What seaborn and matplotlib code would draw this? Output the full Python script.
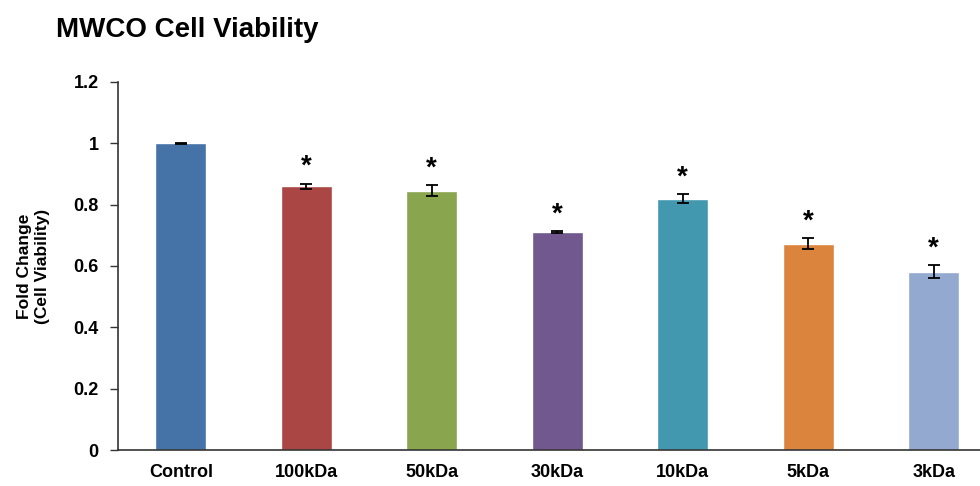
import matplotlib
matplotlib.use("Agg")
import matplotlib.pyplot as plt
import pandas as pd
import seaborn as sns

categories = ["Control", "100kDa", "50kDa", "30kDa", "10kDa", "5kDa", "3kDa"]
viability = [1.0, 0.86, 0.845, 0.711, 0.82, 0.673, 0.581]
errors = [0.002, 0.008, 0.018, 0.003, 0.014, 0.018, 0.021]
significant = [False, True, True, True, True, True, True]
colors = ["#4572A7", "#AA4643", "#89A54E", "#71588F", "#4198AF", "#DB843D", "#93A9CF"]

df = pd.DataFrame({"group": categories, "fold": viability})

sns.set_theme(style="white")
plt.rcParams["font.family"] = ["Liberation Sans", "DejaVu Sans"]

fig = plt.figure(figsize=(9.8, 4.86), dpi=100)
ax = fig.add_axes([118 / 980, 36 / 486, 862 / 980, 368 / 486])

sns.barplot(data=df, x="group", y="fold", hue="group", palette=colors,
            legend=False, width=0.41, saturation=1, ax=ax)
ax.errorbar(range(len(categories)), viability, yerr=errors, fmt="none",
            ecolor="black", elinewidth=1.3, capsize=4, capthick=1.3)

# significance stars above the error bars
for i, (v, e, s) in enumerate(zip(viability, errors, significant)):
    if s:
        ax.text(i, v + e + 0.032, "*", ha="center", va="baseline",
                fontsize=20, fontweight="bold", color="black")

ax.set_xlim(-0.5, -0.5 + 862 / 125.5)
ax.set_ylim(0, 1.2)
ax.set_yticks([0, 0.2, 0.4, 0.6, 0.8, 1.0, 1.2])
ax.set_yticklabels(["0", "0.2", "0.4", "0.6", "0.8", "1", "1.2"])

for lab in ax.get_xticklabels() + ax.get_yticklabels():
    lab.set_fontweight("bold")
    lab.set_fontsize(13)
    lab.set_color("black")

ax.tick_params(axis="y", direction="out", length=6, width=1, color="#333333",
               pad=8, left=True)
ax.tick_params(axis="x", length=0, pad=10)

ax.set_xlabel("")
ax.set_ylabel("Fold Change\n(Cell Viability)", fontsize=12.5, fontweight="bold",
              color="black", linespacing=1.25)
ax.yaxis.set_label_coords(-0.079, 0.5)

for side in ["top", "right"]:
    ax.spines[side].set_visible(False)
for side in ["left", "bottom"]:
    ax.spines[side].set_color("#333333")
    ax.spines[side].set_linewidth(1.2)

fig.text(56 / 980, 1 - 37 / 486, "MWCO Cell Viability", fontsize=20,
         fontweight="bold", va="baseline", ha="left", color="black")

fig.savefig("out.png", dpi=100)
